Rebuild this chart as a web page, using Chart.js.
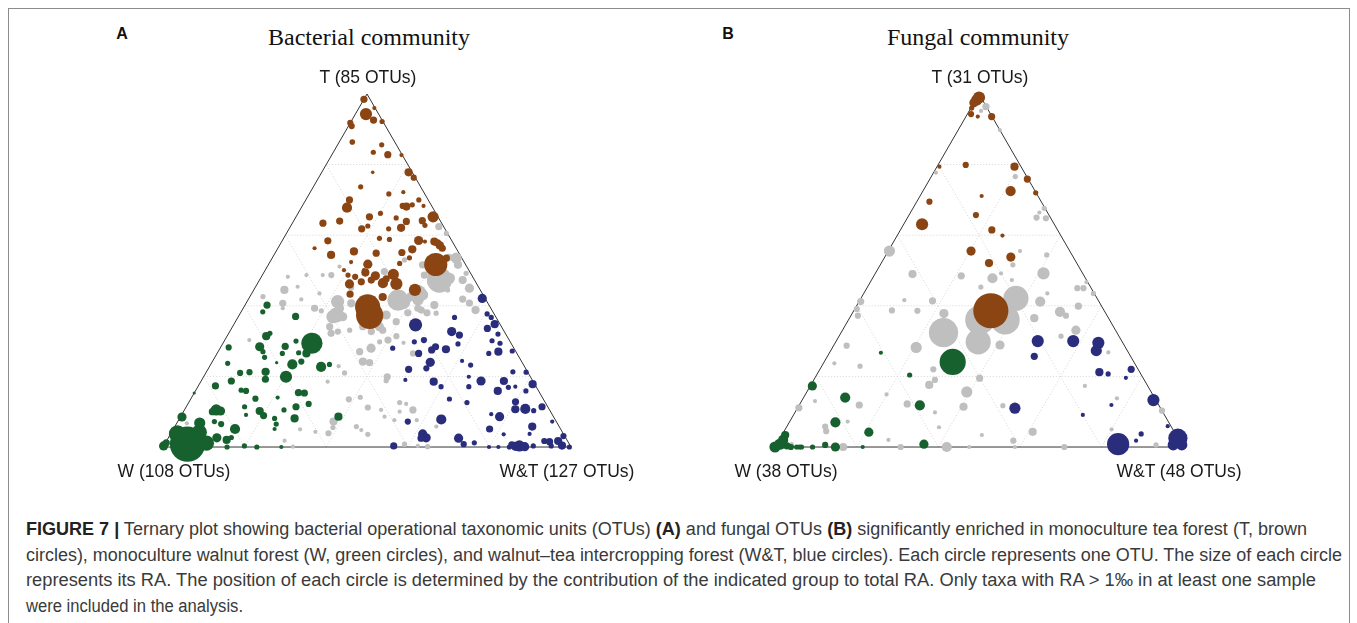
<!DOCTYPE html>
<html>
<head>
<meta charset="utf-8">
<script src="https://cdn.jsdelivr.net/npm/chart.js@4.4.1/dist/chart.umd.min.js"></script>
<style>
  body { margin: 0; background: #fff; width: 1357px; height: 623px; position: relative; overflow: hidden;
         font-family: "Liberation Sans", Arial, sans-serif; }
  #frame { position: absolute; left: 8px; top: 8px; width: 1342px; height: 640px; border: 1px solid #8c8c8c; box-sizing: border-box; }
  canvas { position: absolute; }
  .lbl { position: absolute; font-size: 17.5px; color: #1a1a1a; white-space: nowrap; transform: translate(-50%, -50%); }
  .panel { position: absolute; font-weight: bold; font-size: 16px; color: #111; transform: translate(-50%, -50%); }
  .title { position: absolute; font-family: "Liberation Serif", "Times New Roman", serif; font-size: 24px; color: #111;
           white-space: nowrap; transform: translate(-50%, -50%); }
  .cap { position: absolute; left: 26px; line-height: 20px; height: 20px; font-family: "Liberation Sans", Arial, sans-serif;
         font-size: 18px; color: #3a3a3a; white-space: nowrap; transform-origin: 0 50%; }
  .cap b { color: #222; }
</style>
</head>
<body>
<div id="frame"></div>

<div class="panel" style="left:122px;top:34px">A</div>
<div class="title" style="left:369px;top:37px">Bacterial community</div>
<div class="panel" style="left:728px;top:34px">B</div>
<div class="title" style="left:978px;top:37px">Fungal community</div>

<canvas id="chartA"></canvas>
<canvas id="chartB"></canvas>

<div id="labelsA"></div>
<div id="labelsB"></div>

<div class="cap" data-w="1281" style="top:519px"><b>FIGURE 7 |</b> Ternary plot showing bacterial operational taxonomic units (OTUs) <b>(A)</b> and fungal OTUs <b>(B)</b> significantly enriched in monoculture tea forest (T, brown</div>
<div class="cap" data-w="1316" style="top:545px">circles), monoculture walnut forest (W, green circles), and walnut–tea intercropping forest (W&amp;T, blue circles). Each circle represents one OTU. The size of each circle</div>
<div class="cap" data-w="1290" style="top:570px">represents its RA. The position of each circle is determined by the contribution of the indicated group to total RA. Only taxa with RA &gt; 1‰ in at least one sample</div>
<div class="cap" data-w="217" style="top:596px">were included in the analysis.</div>

<script>
// each row: [T %, W&T %, circle size]; W % = 100 - T - W&T
const bacteriaT = [[98.5,0,3],[94.3,2.6,5.5],[92.6,5.3,3],[96,3.8,1.5],[92.2,7.6,2],[91.8,0,2.5],[90.9,0.8,2.5],[86.4,3.2,2.2],
  [85.6,10.8,2],[83.5,9.8,2],[82.8,13.7,3],[82.7,17.1,1.5],[77.8,12.5,1.2],[77.8,21.3,3.5],[76.3,23.3,2.5],[73.7,11.6,2],
  [71.7,19.5,2],[72.2,22.8,1.5],[70,27.7,2],[70,10.7,3],[67.8,11.2,4.5],[68.1,25.6,3.5],[68.3,24.6,2.5],[68.6,26.8,2],
  [68.3,29.7,1.5],[65.2,33.6,5],[64.1,31.5,3],[62.8,32.8,2],[63.4,7.5,3],[64,11.3,3],[65.2,18,3],[66.2,20.2,2],[64.9,24.7,2],
  [63.9,27.7,3],[61.8,17.8,3],[62.6,18.9,2],[61.8,24.4,2],[62.1,27.3,3.5],[59.1,23.5,2],[58.8,26.1,2],[58.5,33.4,4],
  [58.2,35.1,1.5],[58.2,37.4,3.5],[57.8,38.4,3],[57.1,39.3,3.5],[56.3,40.3,3],[58.4,11.2,3],[56.3,9,1.5],[54.4,14,3.5],
  [55.4,19.1,3.5],[54.9,24.8,3],[55.1,31,3],[56,33.1,3.5],[52,32,2],[53.6,33.6,2],[51.7,41,11],[53.5,42.7,3],[52.4,19.9,1.5],
  [51.8,24.3,4],[50.1,24.2,1.5],[50.1,19.3,1.5],[49.4,24.9,3.5],[48.5,27.8,4],[47.6,30.9,3],[48.9,32,5],[48.7,21,2],
  [48.2,23,2.5],[46.2,22.6,4],[46.8,25.2,3],[47.3,27.4,3],[46.4,30.7,4.5],[46.2,34.1,5.5],[44.5,39.5,5.5],[43.3,24.2,3],
  [42.5,32.6,3.5],[39.7,30.3,12],[37.3,32,13]];
const bacteriaW = [[0.8,5.6,17],[4.2,6.8,7],[3.7,1.7,8],[1.1,10.1,7],[6.8,5.6,5],[0,4.5,9],[0.3,0,4],[1.2,0.2,3],[8.5,0.4,4],[15.3,0,1],
  [10.5,7.8,5],[10.2,9,4],[10,7.1,3],[7.2,9,2],[6.5,11,2.5],[2.6,11.9,4],[2,14.6,3.5],[5.1,15.1,4.5],[2.7,15.4,2],[0.3,11.2,2],
  [0,15.7,2],[0.3,19.8,2],[0,23,2],[0,29,1.5],[17.3,4.2,3],[18.7,7.4,3],[16.1,11.1,2],[15.9,12.4,2.5],[21,8.4,2.5],
  [21.2,10.6,2.5],[23.7,4,2],[28.2,2,2.5],[11.4,14.3,2],[13.7,15.8,2.5],[9.1,15.8,1.5],[10.2,18.6,3.5],[8.9,20.2,3],
  [14,21.1,1.5],[10.5,24.4,2],[8.1,23.3,2],[6.5,24.5,2],[5.1,24.8,1.5],[8.1,28.2,3.5],[11.4,26.9,3],[15.4,25.5,3],[15.3,27,3],
  [12.2,29.6,2.5],[21.3,14.5,3.5],[19.2,15.5,3],[25.4,12.2,2],[28.4,9.5,4],[31.4,9.6,3.5],[32.2,10.1,2],[27,11,2],
  [23.9,15.9,1],[26.5,16,2],[28.5,15.7,3],[30,17.6,2],[26.7,19.9,2],[24.2,21.8,2.5],[26.5,21.9,3.5],[23.4,20,4.5],
  [19.9,20.2,5.5],[29.4,21.8,10],[22.7,27.4,4.5],[23.4,29.1,2],[40.2,5.4,3],[38.3,5.3,2],[37,14,3],[8.6,38.7,3.5]];
const bacteriaWT = [[42.1,57.2,4],[34.6,44.6,6],[36.7,53.1,2],[37.7,60.6,2],[36.7,62.1,2],[34.8,63.9,3.5],[33.6,62.7,3],
  [32,66.1,2],[32.7,54.4,4],[31.7,56.8,3],[29.2,57.7,2],[29.8,46.7,2],[30.3,48.8,2.5],[28,42.3,2],[27.5,52.1,3],[28.4,52.6,3],
  [27.7,55.5,3.5],[30.1,65.6,2],[29.4,67.9,2],[27,68.7,3.5],[26.5,66.6,2],[27.2,72,2],[26.5,49.4,3],[24,53.5,4],[22.3,53.4,2.5],
  [22,49.2,3],[24.4,61.1,1.5],[23.2,63.8,2],[19,49.9,1.5],[18.5,57.1,3.5],[17.1,59.6,2],[19.9,65,1.5],[18.7,68.6,4],
  [17.1,66.4,2],[21.3,75.1,2],[21.2,78.4,2],[18.7,74.2,3.5],[15.9,74.1,3.5],[16.9,76.2,2],[17.1,77.8,1.5],[17.8,81.7,3.5],
  [15.9,81,2],[13.6,63.4,2],[12.6,68.2,2],[12.8,80,3],[11.4,87.2,3],[10.7,81,3.5],[10.8,83.4,4.5],[10.3,85.7,2],[9.3,75.8,1.5],
  [8.6,78.2,4],[7.8,64.3,4.5],[7.2,56.4,2.5],[5.8,87.6,3.5],[3.7,88,1.5],[7.2,91.8,1.5],[5.1,77.5,3],[3.6,81.7,1.5],
  [3.7,61.8,4],[2.6,63.2,4],[2.5,62,3],[2.5,71.2,4],[0.8,73.3,2.5],[1.2,75.7,2],[0.3,56.4,3],[0,79.9,1.5],[0,82.2,1.5],
  [0,84.9,2],[0.3,87.2,5],[0.2,86.3,4],[0.1,88.6,4],[0.6,85.2,3],[0.3,90.6,2],[1.7,92.6,2.5],[1.5,94,3],[0.3,95,2],
  [1.7,96,3.5],[0.4,97.6,3.5],[3.1,96.6,2.5],[0,99.6,2]];
const bacteriaOther = [[62.4,36.4,3],[60.5,39.2,2],[53.5,45.1,5],[51.6,46.5,3.5],[53.7,43.2,3],[47.3,44.1,12],[47.8,46.3,5],
  [47.3,49.8,3.5],[45,52.6,4],[49.2,49.7,2],[48.7,39.7,3],[41.2,38.2,7],[41.6,41.7,5],[43.1,42.1,5],[43.5,40.7,8],[42.6,39.5,4],
  [41.6,36.8,10],[49.7,29.4,3],[53,32.7,2],[51.6,37.8,3],[41.2,22.2,6],[36.9,23.2,6],[36.9,25.6,4],[34.1,23.8,3],[39.3,17.5,3],
  [38.6,19.5,2],[48.7,10.8,1.5],[48.7,16.9,2.5],[51.1,17.7,1.5],[45.2,23.5,2.5],[40.7,25.8,3.5],[37.4,36,4],[35.5,39.4,3],
  [34.1,36,4],[32.7,34.7,3],[38,41,3],[39.3,42.8,3],[38,45.7,3],[40.2,46.4,3.5],[37.9,48,2],[41.9,52.5,3],[40.8,54.7,3],
  [44.5,47.5,2],[44.5,7.5,3.5],[48.2,6.5,1.5],[45.4,10.3,1.5],[48.7,14.8,1.5],[42.6,3.2,2],[41.8,13,1.5],[43.5,16.6,1.5],
  [39.3,9.7,1.5],[37.4,23.8,7],[39.3,23.6,4],[32.2,25.1,3],[32.7,26.5,2.5],[33.1,29.2,2],[34.1,31.9,3],[35,33.5,5],
  [33.1,37.3,3],[31.4,41.5,2.5],[28,37,4],[24.2,36.9,3.5],[23.9,38.7,3],[27,34.7,3],[29.8,38.2,2],[21,34,2],[22.9,31.6,1.5],
  [18.5,31.1,1.5],[19.9,45,3],[18.8,45.3,2],[13.5,38.8,2.5],[14.1,41.3,2],[11.2,44.6,2.5],[10.5,48.2,1.5],[8.6,50,1.5],
  [7.2,38.2,3.5],[5.5,38.9,2],[3.9,38.6,2.5],[5.8,44.5,2],[4.8,46.2,1.5],[3.6,48.4,2],[7.6,52.9,1.5],[10,53,1.5],
  [12.2,53.5,1.5],[7.6,58.4,1.5],[0.8,58.8,2],[0.3,62.3,1.5],[0.1,64.8,2],[5,31.1,1.5],[4.3,35.2,1.5],[1.8,28.9,1.5],
  [0.1,31.8,1.5],[30.3,6,1.5],[6.7,2.5,1.5],[40.7,9,3],[38.8,43.9,3],[38.8,57.2,3.5],[30.3,40,3],[29.5,44.2,1.5],
  [26.5,48,2.5],[12.6,51.7,2],[10.5,56,3],[5.8,64.1,1.5],[23.2,29.2,1.5]];

const fungiT = [[98.3,0.3,5],[99,0.5,5.5],[97.5,0,4],[96,0.2,2],[94.3,0.9,2.5],[93.6,2.9,1.5],[93.6,6.3,3],[79.4,0.6,1.5],
  [79.9,6.8,2.5],[79.4,19,3.5],[75.9,23.9,3],[72.5,21.5,4.5],[71.1,15.1,1.5],[72,27.9,2],[69.5,3.1,2.5],[63.1,4.5,5.5],
  [65.7,16.4,2.5],[61.5,22.4,3],[59.9,25.8,1.5],[55.5,20.3,4],[53.8,30.9,4],[52.1,26.4,3.5],[38.6,33.6,17]];
const fungiW = [[0,0,5],[0.8,0.8,5],[2,1,4.5],[3.4,0.8,3.5],[0.3,2.8,3],[0,3.9,2.5],[0,5.3,2],[0,6,2],[0,6.5,2],[0,9.2,2],
  [0.6,12,2.5],[0,14.8,4],[0,21.5,1.5],[17.3,0.5,4],[14,10.2,4.5],[7,11.3,4.5],[4.2,20.9,4],[11.8,29.6,4.5],[0.8,36.1,4],
  [26.7,12.6,1.5],[20.4,22.8,2],[24.1,31.5,12.5]];
const fungiWT = [[30,49.4,5.5],[25.7,50.7,3],[30,58.1,5.5],[29.5,64.5,5.5],[27.3,65.1,5],[21.2,68.9,3.5],[20.7,71.3,2],
  [22,76.3,3],[19.6,76.2,1.5],[13.3,86.1,5.5],[11.9,76.5,1.5],[9.1,70.9,1.5],[11,53.3,5],[0.8,83.7,10.5],[2.5,97.5,9],
  [0.6,97.3,5],[0.6,99.4,5],[3.7,87.9,2],[1.8,87.6,1.5],[5.9,93.3,1.5]];
const fungiOther = [[96.4,3.5,3],[95.2,2.9,1.5],[89.8,10.2,1.5],[77.7,0.6,1.5],[76.6,20.6,2],[67.6,32.2,2],[66.4,31.6,1.5],
  [64.8,34,2.5],[65,31.6,2.5],[55.5,0.3,5],[55.5,32.3,1.5],[54.4,39.4,2],[51.6,32.5,2],[49,9.2,3.5],[48.5,21.4,3],
  [47.8,29.4,4.5],[49.2,41.2,5.5],[45.3,27.8,2],[49.2,30.8,1.5],[47.3,34.4,1.5],[41.2,0.4,3],[39.1,0.5,2.5],[37.2,1.7,2.5],
  [41.6,10.9,1.5],[41.4,17.9,3],[38.7,9.3,2.5],[38.6,15.6,2.5],[37.8,22.5,4],[42.1,38,12],[36,38.4,14],[36,32.2,14],
  [32.4,25.1,14],[29.8,34.9,12],[28.9,40.7,4],[41.2,44.4,4.5],[45,51.6,2.5],[45,53.1,2.5],[38.3,50.7,4.5],[37.2,52.7,2.5],
  [36.5,45.3,3.5],[39.9,54.4,3],[33.1,57.2,4],[31.4,54.4,2],[43.5,56.3,2],[46.7,53,1.5],[43.5,45,1.5],[28.2,20.5,5],
  [28.7,3.2,2.5],[22.9,9.4,2],[23.7,2.7,1.5],[22,27.8,2.5],[17.6,29,3.5],[19,29.7,2.5],[19.5,40.4,3],[15.6,39.2,5],
  [11.4,40.5,3.5],[14.9,19.9,1.5],[17.3,67.3,1.5],[11.1,0.3,3],[13,3.3,1.5],[11.9,14.7,3],[12.2,26.3,3],[9.8,34.3,1.5],
  [5.6,37.4,1.5],[5.8,9.4,2.5],[4.5,10.3,2.5],[7.2,14.2,1.5],[0,16.7,3.5],[2,26.8,1.5],[0,30.8,2.5],[0,42.1,4.5],
  [0,47.6,1.5],[0.8,3.7,1.5],[26.8,68.3,1.5],[13.8,76.9,1.5],[10.3,89.7,2.5],[11.7,50,2],[4.3,61,3.5],[1.8,57.5,2.5],
  [0,58.8,1.5],[0,70.9,2.5],[5,80,1.5],[0.6,93.1,2],[3.4,49,1.5]];

const bacteriaLabels = ['T (85 OTUs)', 'W (108 OTUs)', 'W&T (127 OTUs)'];
const fungiLabels = ['T (31 OTUs)', 'W (38 OTUs)', 'W&T (48 OTUs)'];
const gridTicks = [20, 40, 60, 80];

const colors = { T: '#8b4513', W: '#17612f', WT: '#292d7c', other: '#bfbfbf' };
const SIDE = 408, PAD = 20, H = Math.sqrt(3) / 2, TOP = 94;

// ternary [T, WT] -> plane, W at left, W&T at right, T at top
function tern(t, wt) { return { x: wt + t / 2, y: t * H }; }
function bubbles(rows) { return rows.map(p => Object.assign(tern(p[0], p[1]), { r: p[2] + 0.6 })); }

function lineSet(pts, color, dash, width) {
  return { type: 'scatter', data: pts, showLine: true, pointRadius: 0, borderColor: color,
           borderWidth: width, borderDash: dash, clip: false };
}

function makePanel(id, triLeft, groups, labels) {
  const cv = document.getElementById(id);
  cv.width = SIDE + 2 * PAD;
  cv.height = Math.round(SIDE * H) + 2 * PAD;
  cv.style.left = (triLeft - PAD) + 'px';
  cv.style.top = (TOP - PAD) + 'px';
  const u = PAD / SIDE * 100;

  const datasets = [];
  // first dataset is drawn on top
  [['T', groups[0]], ['WT', groups[2]], ['W', groups[1]], ['other', groups[3]]].forEach(([k, rows]) => {
    datasets.push({ type: 'bubble', data: bubbles(rows), backgroundColor: colors[k], borderWidth: 0, clip: false });
  });
  datasets.push(lineSet([tern(0, 0), tern(0, 100), tern(100, 0), tern(0, 0)], '#333', [], 1));
  gridTicks.forEach(c => {
    datasets.push(lineSet([tern(c, 0), tern(c, 100 - c)], '#d4d4d4', [1, 2], 1));
    datasets.push(lineSet([tern(0, c), tern(100 - c, c)], '#d4d4d4', [1, 2], 1));
    datasets.push(lineSet([tern(0, 100 - c), tern(100 - c, 0)], '#d4d4d4', [1, 2], 1));
  });

  new Chart(cv, {
    type: 'bubble',
    data: { datasets },
    options: {
      responsive: false, animation: false, events: [],
      layout: { padding: 0, autoPadding: false },
      plugins: { legend: { display: false }, tooltip: { enabled: false } },
      scales: {
        x: { type: 'linear', min: -u, max: 100 + u, display: false },
        y: { type: 'linear', min: -u, max: 100 * H + u, display: false }
      }
    }
  });

  const box = document.getElementById(id === 'chartA' ? 'labelsA' : 'labelsB');
  const pos = [[triLeft + SIDE / 2 + 1, 77], [triLeft + 11, 471], [triLeft + SIDE - 4, 471]];
  labels.forEach((t, i) => {
    const d = document.createElement('div');
    d.className = 'lbl';
    d.textContent = t;
    d.style.left = pos[i][0] + 'px';
    d.style.top = pos[i][1] + 'px';
    box.appendChild(d);
  });
}

makePanel('chartA', 163, [bacteriaT, bacteriaW, bacteriaWT, bacteriaOther], bacteriaLabels);
makePanel('chartB', 775, [fungiT, fungiW, fungiWT, fungiOther], fungiLabels);

function fitCaption() {
  document.querySelectorAll('.cap').forEach(el => {
    el.style.transform = 'none';
    const w = el.getBoundingClientRect().width;
    el.style.transform = 'scaleX(' + (Number(el.dataset.w) / w) + ')';
  });
}
fitCaption();
if (document.fonts) document.fonts.ready.then(fitCaption);
</script>
</body>
</html>
